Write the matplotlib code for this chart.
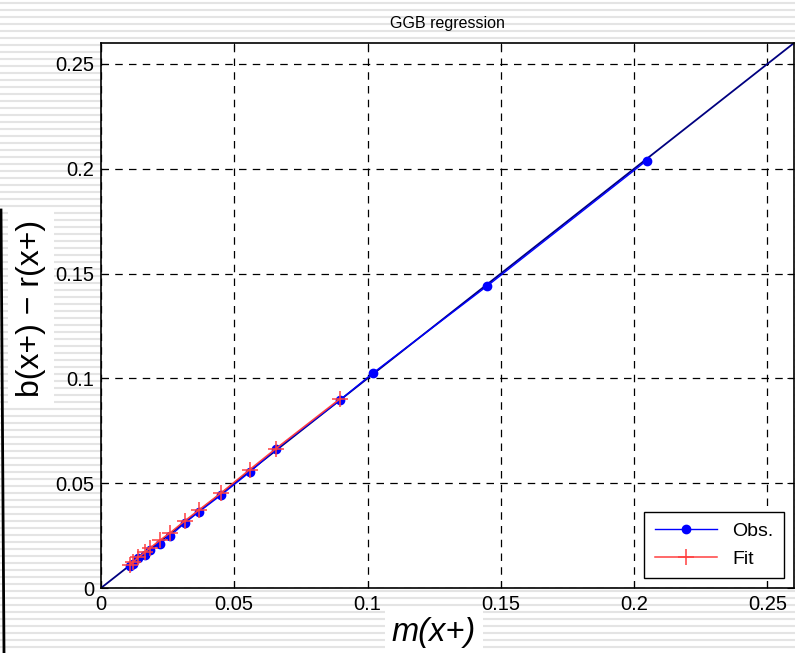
import matplotlib.pyplot as plt
import numpy as np

plt.rcParams['font.family'] = ['Liberation Sans', 'DejaVu Sans']

obs_x = [0.0109, 0.0121, 0.0140, 0.0165, 0.0183, 0.0221, 0.0258, 0.0314, 0.0367,
         0.0452, 0.0558, 0.0655, 0.0898, 0.1022, 0.1448, 0.2047]
obs_y = [0.0105, 0.0117, 0.0141, 0.0157, 0.0181, 0.0212, 0.0247, 0.0310, 0.0363,
         0.0445, 0.0553, 0.0661, 0.0898, 0.1027, 0.1440, 0.2039]

# fitted values
fit_x = [0.0109, 0.0121, 0.0140, 0.0165, 0.0183, 0.0221, 0.0258, 0.0314, 0.0367,
         0.0452, 0.0558, 0.0655, 0.0898]
fit_y = [0.0112, 0.0125, 0.0146, 0.0170, 0.0190, 0.0228, 0.0262, 0.0320, 0.0372,
         0.0455, 0.0565, 0.0664, 0.0904]

ref_line = [0, 0.26]
ticks = [0, 0.05, 0.1, 0.15, 0.2, 0.25]
tick_labels = ['0', '0.05', '0.1', '0.15', '0.2', '0.25']

fig = plt.figure(figsize=(7.95, 6.53), dpi=100)

# striped background
bg = fig.add_axes([0, 0, 1, 1], zorder=0)
bg.set_xlim(0, 795)
bg.set_ylim(653, 0)
bg.axis('off')
for yy in np.arange(3, 653, 7):
    bg.axhline(yy, color='#e4e4e4', lw=1.5)
# stray black line on the left
bg.plot([1, 4], [210, 653], color='black', lw=2)

ax = fig.add_axes([0.127, 0.0995, 0.8717, 0.8346], zorder=1)
ax.set_facecolor('white')

ax.plot(ref_line, ref_line, color='#000080', lw=1.3, zorder=2)
ax.plot(obs_x, obs_y, color='blue', marker='o', ms=6, lw=1, label='Obs.', zorder=3)
ax.plot(fit_x, fit_y, color='#ff4040', marker='+', ms=12, mew=1.1, lw=1.1, label='Fit', zorder=4)

ax.set_xlim(0, 0.26)
ax.set_ylim(0, 0.26)
ax.set_xticks(ticks)
ax.set_xticklabels(tick_labels)
ax.set_yticks(ticks)
ax.set_yticklabels(tick_labels)
ax.tick_params(direction='in', top=True, right=True, labelsize=14.5, length=5, pad=5)
ax.grid(True, color='black', linestyle=(0, (6, 5)), lw=0.9)
for s in ax.spines.values():
    s.set_linewidth(1.2)

ax.set_title('GGB regression', fontsize=11.5, pad=11)

fig.text(0.039, 0.528, 'b(x+) \u2212 r(x+)', rotation=90, fontsize=23, ha='center', va='center',
         bbox=dict(facecolor='white', edgecolor='none', pad=6), zorder=5)
fig.text(0.546, 0.032, 'm(x+)', style='italic', fontsize=23.5, ha='center', va='center',
         bbox=dict(facecolor='white', edgecolor='none', pad=5), zorder=5)

leg = ax.legend(loc='lower right', fontsize=14, fancybox=False, framealpha=1,
                edgecolor='black', borderaxespad=0.5, handlelength=3.2,
                borderpad=0.55, labelspacing=0.5)
leg.get_frame().set_linewidth(1)

fig.savefig('out.png', dpi=100)
